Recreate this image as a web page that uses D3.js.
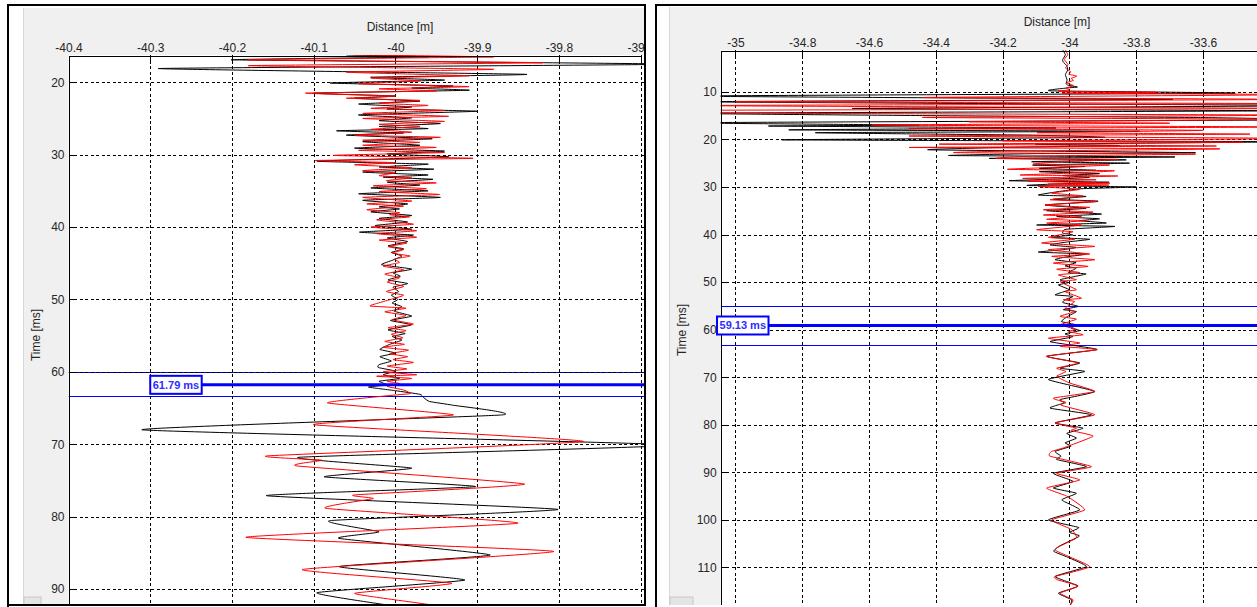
<!DOCTYPE html>
<html>
<head>
<meta charset="utf-8">
<script src="https://cdn.jsdelivr.net/npm/d3@7"></script>
<style>
  body { margin: 0; background: #fff; }
  svg { display: block; font-family: "Liberation Sans", Arial, sans-serif; }
</style>
</head>
<body>
<svg id="chart" width="1257" height="607"></svg>
<script>
// ---- data ----
// tick values
const leftDistanceTicks = [-40.4, -40.3, -40.2, -40.1, -40, -39.9, -39.8, -39.7];
const leftTimeTicks = [20, 30, 40, 50, 60, 70, 80, 90];
const rightDistanceTicks = [-35, -34.8, -34.6, -34.4, -34.2, -34, -33.8, -33.6];
const rightTimeTicks = [10, 20, 30, 40, 50, 60, 70, 80, 90, 100, 110];

// trace baselines [m], picked times [ms] and their windows [ms]
const traceCenters = [-40, -34];
const cursorTimes = [61.79, 59.13];
const cursorWindows = [[60.0, 63.4], [55.1, 63.3]];
const cursorLabelX = [-40.3, -35.055];

// traces: [time ms, offset m from baseline], turning points
const leftBlack = [
  [16.23,-0.06],[16.5,0.04],[16.9,-0.20],[17.5,0.34],[18.1,-0.29],[18.9,0.16],[19.3,-0.03],[19.7,0.06],
  [20.1,-0.08],[20.5,0.07],[20.8,0.02],[21.1,0.09],[21.5,-0.10],[21.9,0.0],[22.2,-0.05],[22.6,0.03],
  [23.0,-0.045],[23.4,0.02],[23.7,-0.01],[24.0,0.10],[24.5,-0.045],[24.9,0.02],[25.3,-0.02],[25.7,0.055],
  [26.1,-0.02],[26.4,0.04],[26.7,-0.072],[27.0,0.01],[27.3,-0.06],[27.8,0.045],[28.2,-0.04],[28.7,0.03],
  [29.1,-0.05],[29.5,0.06],[29.9,-0.01],[30.3,0.065],[30.9,-0.096],[31.3,0.04],[31.7,-0.02],[32.0,0.047],
  [32.4,-0.04],[32.8,0.04],[33.1,-0.015],[33.4,0.046],[33.8,-0.01],[34.2,0.03],[34.6,-0.03],[35.0,0.04],
  [35.4,-0.045],[35.9,0.055],[36.3,-0.04],[36.8,0.015],[37.2,-0.02],[37.5,0.005],[37.9,-0.03],[38.4,0.02],
  [38.8,-0.02],[39.3,0.015],[39.8,-0.025],[40.3,0.02],[40.7,-0.044],[41.1,0.022],[41.5,-0.01],[42.0,0.015],
  [42.6,-0.009],[43.0,0.01],[43.5,-0.005],[44.0,0.008],[44.6,-0.004],[45.2,-0.017],[45.8,0.02],[46.3,-0.003],
  [46.8,0.006],[47.3,-0.009],[47.8,0.015],[48.3,-0.003],[48.9,0.004],[49.4,-0.005],[50.0,0.003],[50.5,-0.004],
  [51.0,0.008],[51.6,-0.002],[52.3,0.02],[52.9,-0.006],[53.5,0.02],[54.2,-0.009],[54.7,0.012],[55.1,-0.004],
  [55.6,0.008],[56.2,-0.007],[56.9,-0.019],[57.4,0.0],[57.9,-0.019],[58.5,-0.005],[59.0,-0.02],[59.4,-0.021],
  [59.9,0.0],[60.4,-0.015],[60.9,0.005],[61.3,-0.02],[61.8,-0.01],[62.1,-0.033],[62.6,0.0],[63.1,0.03],
  [63.6,0.035],[64.1,0.042],[64.6,0.07],[65.95,0.13],[68.0,-0.31],[70.1,0.34],[71.8,-0.118],[73.3,0.02],
  [74.5,-0.087],[75.85,0.098],[77.1,-0.158],[79.0,0.199],[80.55,-0.08],[82.1,-0.02],[83.0,-0.069],[85.3,0.116],
  [86.9,-0.069],[88.75,0.085],[90.5,-0.096],[92.3,-0.005],[93.5,0.04]
];
const leftRed = [
  [16.23,-0.05],[16.5,0.12],[16.9,-0.18],[17.3,0.18],[17.7,-0.18],[18.2,0.12],[18.6,-0.06],[19.1,0.09],
  [19.4,-0.03],[19.8,0.03],[20.2,-0.045],[20.6,0.09],[20.9,-0.02],[21.2,0.05],[21.5,-0.11],[21.9,0.0],
  [22.2,-0.06],[22.5,0.03],[22.9,-0.02],[23.2,0.04],[23.6,-0.03],[23.9,0.06],[24.3,-0.04],[24.7,0.065],
  [25.0,-0.04],[25.4,0.06],[25.8,-0.02],[26.1,0.03],[26.5,-0.03],[26.9,0.02],[27.3,-0.05],[27.6,0.055],
  [28.0,-0.04],[28.3,0.03],[28.7,-0.04],[29.0,0.05],[29.4,-0.045],[29.7,0.06],[30.1,-0.076],[30.5,0.095],
  [30.8,-0.098],[31.1,0.0],[31.4,-0.05],[31.8,0.02],[32.2,-0.04],[32.5,0.0],[32.9,-0.02],[33.2,0.02],
  [33.6,-0.011],[33.9,0.05],[34.3,-0.027],[34.7,0.038],[35.1,-0.02],[35.5,0.054],[35.9,-0.04],[36.4,0.02],
  [36.8,-0.035],[37.1,0.01],[37.6,-0.035],[38.0,0.005],[38.3,-0.007],[38.6,0.017],[39.0,-0.023],[39.6,0.022],
  [40.0,-0.03],[40.5,0.026],[40.9,-0.023],[41.4,0.026],[41.8,-0.02],[42.2,0.014],[42.7,-0.009],[43.1,0.01],
  [43.6,-0.003],[44.0,0.018],[44.4,-0.001],[44.9,0.005],[45.4,-0.015],[45.9,0.01],[46.5,-0.013],[47.0,0.005],
  [47.6,-0.01],[48.2,0.01],[48.9,-0.011],[49.4,0.01],[49.8,0.0],[50.3,-0.015],[50.9,-0.031],[51.2,0.013],
  [51.7,-0.013],[52.2,0.013],[52.8,-0.004],[53.4,0.022],[53.9,-0.009],[54.3,0.013],[54.8,-0.005],[55.3,0.009],
  [55.8,-0.013],[56.2,0.011],[56.6,-0.015],[57.0,0.016],[57.5,-0.007],[57.9,0.015],[58.3,-0.003],[58.7,0.022],
  [59.2,-0.01],[59.6,0.014],[60.0,-0.015],[60.4,0.026],[60.6,-0.023],[60.9,0.02],[61.3,-0.01],[61.6,0.005],
  [62.0,-0.01],[62.5,0.01],[63.0,0.018],[63.3,-0.01],[64.3,-0.083],[65.95,0.071],[67.3,-0.10],[69.6,0.23],
  [71.6,-0.156],[72.2,-0.09],[73.0,-0.12],[75.5,0.158],[77.0,-0.05],[77.5,-0.027],[78.85,-0.085],[80.9,0.15],
  [82.85,-0.183],[84.8,0.194],[87.3,-0.114],[89.2,0.069],[90.6,-0.05],[92.3,0.049],[93.5,0.02]
];
const rightBlack = [
  [1.21,-0.02],[2.2,-0.012],[3.2,-0.02],[3.7,-0.019],[4.5,-0.008],[5.4,-0.005],[6.4,-0.012],[7.5,-0.007],
  [8.3,-0.01],[8.6,-0.005],[9.0,0.024],[9.2,-0.007],[9.8,-0.055],
  [10.3,0.49],[10.9,-1.15],[11.6,0.31],[12.1,-1.12],[12.9,0.75],[13.5,-0.65],[14.0,0.6],[14.5,-1.15],
  [15.0,-0.44],[15.4,0.38],[15.9,0.7],[16.5,-1.15],[17.0,-0.45],[17.2,-0.9],[17.6,-0.04],[18.0,-0.84],
  [18.3,0.21],[18.6,-0.76],[19.1,-0.13],[19.6,0.1],[20.1,-0.86],[20.5,0.62],[21.0,-0.1],[21.3,0.15],
  [21.7,-0.2],[22.2,-0.42],[22.8,0.377],[23.0,-0.1],[23.4,-0.36],[23.7,0.316],[24.0,-0.24],[24.3,0.17],
  [24.7,-0.113],[25.0,0.18],[25.4,-0.11],[25.7,0.046],[26.1,-0.09],[26.5,0.08],[26.8,-0.09],[27.2,0.09],
  [27.6,-0.02],[28.0,0.06],[28.4,-0.06],[28.7,-0.18],[29.0,0.118],[29.4,-0.05],[29.7,-0.125],[30.0,0.2],
  [30.4,0.03],[31.7,-0.093],[32.0,0.05],[32.6,-0.048],[33.0,0.086],[33.8,-0.073],[34.5,0.05],[35.0,-0.068],
  [35.7,0.096],[36.2,-0.038],[36.7,0.09],[37.1,0.03],[37.6,0.11],[38.0,-0.098],[38.3,0.136],[38.9,-0.01],
  [39.7,-0.02],[40.1,0.01],[40.6,-0.053],[41.0,0.061],[41.6,-0.01],[42.2,-0.058],[42.7,0.02],[43.2,-0.02],
  [43.7,-0.093],[44.1,0.05],[44.7,-0.01],[45.3,-0.043],[45.9,0.02],[46.6,-0.013],[47.1,0.02],[48.0,-0.003],
  [48.3,0.05],[49.5,-0.028],[50.1,-0.003],[50.6,-0.033],[51.6,0.0],[52.1,-0.02],[52.7,-0.043],[53.0,0.011],
  [53.6,-0.01],[54.3,-0.02],[55.1,0.026],[55.8,-0.018],[56.2,0.021],[57.2,-0.005],[58.3,-0.024],[59.0,0.021],
  [59.7,0.005],[60.2,0.031],[60.9,-0.013],[61.5,0.01],[62.5,-0.058],[63.2,0.0],[64.2,0.083],[65.6,-0.068],
  [67.0,0.031],[68.1,-0.028],[68.8,0.046],[70.5,-0.063],[73.0,0.076],[74.7,-0.028],[75.4,-0.015],[76.5,-0.058],
  [77.9,0.066],[79.6,-0.043],[80.7,0.041],[81.8,-0.008],[82.8,0.021],[83.8,-0.013],[84.5,0.005],[85.6,-0.043],
  [86.6,-0.025],[87.3,-0.038],[88.8,0.051],[90.2,-0.048],[91.9,0.011],[93.3,-0.048],[94.4,0.021],[95.8,-0.023],
  [97.9,0.031],[100.0,-0.063],[101.6,0.028],[102.6,0.0],[103.4,0.03],[105.5,-0.03],[106.6,-0.047],[107.7,-0.01],
  [109.8,0.051],[111.9,-0.043],[113.9,0.026],[115.4,-0.033],[116.8,0.007],[118.2,0.0],[119.5,-0.02]
];
const rightRed = [
  [1.21,-0.012],[2.2,-0.005],[3.2,-0.015],[4.3,-0.004],[5.0,-0.012],[5.8,0.004],[6.3,-0.002],[6.7,0.022],
  [7.2,0.005],[7.6,0.012],[8.1,-0.008],[8.7,0.012],[9.2,-0.01],[9.6,0.0],[9.95,-0.03],
  [10.1,0.26],[10.3,-0.02],[10.6,0.7],[11.2,-0.44],[11.6,0.7],[12.1,-1.0],[12.5,0.7],[12.9,-1.15],
  [13.5,0.7],[13.9,-1.15],[14.5,-0.96],[14.9,0.7],[15.4,-0.44],[15.8,0.7],[16.3,-0.3],[16.6,0.3],
  [17.0,-0.59],[17.4,0.7],[17.7,-0.48],[18.1,0.4],[18.6,-0.097],[18.9,0.54],[19.3,-0.48],[19.8,0.7],
  [20.3,-0.2],[20.6,0.52],[21.0,-0.39],[21.4,0.44],[21.7,-0.48],[22.0,0.45],[22.5,-0.2],[22.8,-0.34],
  [23.1,0.377],[23.5,-0.1],[24.0,-0.22],[24.2,0.145],[24.7,-0.02],[25.2,-0.108],[25.4,0.12],[25.9,-0.05],
  [26.3,-0.185],[26.6,0.134],[27.1,0.0],[27.5,-0.147],[27.7,0.145],[28.2,-0.14],[28.5,0.08],[28.8,-0.123],
  [29.2,0.121],[29.4,-0.064],[29.6,0.118],[29.9,-0.093],[30.5,0.031],[31.3,-0.053],[31.9,0.041],[32.7,-0.058],
  [33.1,0.081],[33.8,-0.073],[34.3,0.061],[34.8,-0.078],[35.3,0.071],[35.9,-0.078],[36.2,0.036],[36.8,-0.068],
  [37.1,0.051],[37.6,-0.068],[38.0,0.036],[39.0,-0.098],[39.4,0.011],[40.6,-0.063],[41.0,0.016],[41.8,-0.083],
  [42.5,0.076],[43.2,-0.063],[44.1,0.061],[44.6,-0.053],[45.3,0.076],[46.0,-0.048],[46.7,0.056],[47.3,-0.038],
  [48.0,0.031],[48.5,-0.033],[49.5,0.021],[49.9,-0.028],[51.6,0.021],[52.0,-0.013],[53.4,0.036],[53.7,-0.018],
  [54.1,0.016],[55.5,-0.013],[56.2,0.016],[57.2,-0.028],[57.8,0.021],[59.0,-0.028],[59.9,0.021],[60.4,-0.003],
  [61.1,0.041],[61.8,-0.063],[62.8,0.031],[63.5,-0.028],[64.2,0.083],[65.6,-0.068],[67.0,0.026],[68.1,-0.038],
  [68.8,-0.01],[69.8,-0.038],[71.2,0.0],[73.0,0.076],[74.4,-0.048],[75.3,-0.01],[75.9,-0.025],[77.9,0.076],
  [79.6,-0.043],[80.7,0.021],[81.2,0.005],[82.4,0.071],[84.9,-0.02],[85.6,-0.053],[86.6,-0.058],[88.8,0.066],
  [90.2,-0.038],[91.6,0.031],[93.3,-0.068],[95.0,-0.008],[97.9,0.046],[100.0,-0.053],[102.0,0.006],[103.8,0.021],
  [106.3,-0.043],[109.8,0.061],[111.9,-0.043],[112.6,-0.035],[113.9,0.026],[115.4,-0.028],[116.8,0.011],
  [118.2,0.0],[119.5,-0.015]
];

// ---- layout of the two screenshots ----
const panels = [
  { id: "L", frame: [8, 5, 645, 605], grey: [23, 8, 645, 605],
    xDomain: [-40.4, -39.7], xRange: [68.5, 640.6], yDomain: [16.23, 99.8], top: 55,
    xTicks: leftDistanceTicks, yTicks: leftTimeTicks, center: traceCenters[0],
    black: leftBlack, red: leftRed, cursor: cursorTimes[0], win: cursorWindows[0],
    labelAt: cursorLabelX[0], titleX: 400, yLabelX: 36, yLabelY: 335 },
  { id: "R", frame: [656, 5, 1260, 605], grey: [669, 7, 1257, 605],
    xDomain: [-35.044, -33.3], xRange: [720.7, 1303.2], yDomain: [1.213, 129.45], top: 50,
    xTicks: rightDistanceTicks, yTicks: rightTimeTicks, center: traceCenters[1],
    black: rightBlack, red: rightRed, cursor: cursorTimes[1], win: cursorWindows[1],
    labelAt: cursorLabelX[1], titleX: 1057, yLabelX: 682, yLabelY: 330 }
];

const svg = d3.select("#chart");
svg.append("rect").attr("width", 1257).attr("height", 607).attr("fill", "#fff");
const defs = svg.append("defs");

panels.forEach(p => {
  const [fx0, fy0, fx1, fy1] = p.frame;
  const [gx0, gy0, gx1, gy1] = p.grey;
  const x = d3.scaleLinear().domain(p.xDomain).range(p.xRange);
  const y = d3.scaleLinear().domain(p.yDomain).range([p.top, 660]);
  const left = p.xRange[0];

  defs.append("clipPath").attr("id", "win" + p.id)
    .append("rect").attr("x", fx0).attr("y", fy0).attr("width", gx1 - fx0).attr("height", fy1 - fy0);
  defs.append("clipPath").attr("id", "plot" + p.id)
    .append("rect").attr("x", left).attr("y", p.top).attr("width", gx1 - left).attr("height", gy1 - p.top);

  const g = svg.append("g").attr("clip-path", `url(#win${p.id})`);

  // window background + plot area
  g.append("rect").attr("x", gx0).attr("y", gy0).attr("width", gx1 - gx0).attr("height", gy1 - gy0)
    .attr("fill", "#f0f0f0");
  g.append("line").attr("x1", gx0 + 0.5).attr("x2", gx0 + 0.5).attr("y1", gy0).attr("y2", gy1)
    .attr("stroke", "#d8d8d8");
  g.append("rect").attr("x", left).attr("y", p.top).attr("width", gx1 - left).attr("height", gy1 - p.top)
    .attr("fill", "#fff");

  const plot = g.append("g").attr("clip-path", `url(#plot${p.id})`);

  // picking window (thin lines)
  plot.selectAll("line.win").data(p.win).join("line").attr("class", "win")
    .attr("x1", left).attr("x2", gx1)
    .attr("y1", d => Math.round(y(d)) + 0.5).attr("y2", d => Math.round(y(d)) + 0.5)
    .attr("stroke", "#0000ff").attr("stroke-width", 1.2);

  // grid
  plot.selectAll("line.hg").data(p.yTicks).join("line").attr("class", "hg")
    .attr("x1", left).attr("x2", gx1)
    .attr("y1", d => Math.round(y(d)) + 0.5).attr("y2", d => Math.round(y(d)) + 0.5)
    .attr("stroke", "#000").attr("stroke-dasharray", "3,2.5").attr("shape-rendering", "crispEdges");
  plot.selectAll("line.vg").data(p.xTicks.filter(d => x(d) > left + 2)).join("line").attr("class", "vg")
    .attr("x1", d => Math.round(x(d)) + 0.5).attr("x2", d => Math.round(x(d)) + 0.5)
    .attr("y1", p.top).attr("y2", gy1)
    .attr("stroke", "#000").attr("stroke-dasharray", "3,2.5").attr("shape-rendering", "crispEdges");

  // traces
  const line = d3.line()
    .x(d => x(p.center + d[1]))
    .y(d => y(d[0]))
    .curve(d3.curveCardinal.tension(0.6));
  plot.append("path").datum(p.black).attr("d", line)
    .attr("fill", "none").attr("stroke", "#000").attr("stroke-width", 1);
  plot.append("path").datum(p.red).attr("d", line)
    .attr("fill", "none").attr("stroke", "#ff0000").attr("stroke-width", 1);

  // axes
  const ax = g.append("g").attr("transform", `translate(0,${p.top + 0.5})`)
    .call(d3.axisTop(x).tickValues(p.xTicks).tickFormat(d => String(d))
      .tickSize(-5).tickSizeOuter(0).tickPadding(4));
  const ay = g.append("g").attr("transform", `translate(${left + 0.5},0)`)
    .call(d3.axisLeft(y).tickValues(p.yTicks).tickFormat(d => String(d))
      .tickSize(-5).tickSizeOuter(0).tickPadding(4.5));
  [ax, ay].forEach(a => {
    a.attr("font-family", null).attr("font-size", null);
    a.selectAll("path, line").attr("stroke", "#000").attr("shape-rendering", "crispEdges");
    a.selectAll("text").attr("fill", "#262626").style("font-size", "12px");
  });

  g.append("text").attr("x", p.titleX).attr("y", p.top - 24)
    .attr("text-anchor", "middle").attr("fill", "#262626").style("font-size", "12px")
    .text("Distance [m]");
  g.append("text").attr("transform", `translate(${p.yLabelX},${p.yLabelY}) rotate(-90)`)
    .attr("text-anchor", "middle").attr("dy", "0.35em").attr("fill", "#262626").style("font-size", "12px")
    .text("Time [ms]");

  // picked time: thick line + label box
  const cy = y(p.cursor);
  const bx = x(p.labelAt);
  const label = g.append("g");
  const txt = label.append("text").attr("x", bx + 2.5).attr("y", cy).attr("dy", "0.35em")
    .attr("fill", "#2d2dff").style("font-size", "11px").style("font-weight", "bold")
    .text(p.cursor.toFixed(2) + " ms");
  const tw = txt.node().getComputedTextLength();
  label.insert("line", "text").attr("x1", bx + tw + 5).attr("x2", gx1)
    .attr("y1", cy).attr("y2", cy).attr("stroke", "#0000ff").attr("stroke-width", 3);
  label.insert("rect", "text").attr("x", bx).attr("y", cy - 9).attr("width", tw + 5).attr("height", 18)
    .attr("fill", "#fff").attr("stroke", "#0000ff").attr("stroke-width", 2);

  // small scroll button at the lower left
  g.append("rect").attr("x", gx0 + 1).attr("y", 597).attr("width", p.id === "L" ? 17 : 23).attr("height", 12)
    .attr("fill", "#e4e4e4").attr("stroke", "#c8c8c8");
});

// screenshot frames
svg.append("path")
  .attr("d", "M8,607 V5 H645 V605 H8 M656,607 V5 H1257")
  .attr("fill", "none").attr("stroke", "#000").attr("stroke-width", 2);
</script>
</body>
</html>
